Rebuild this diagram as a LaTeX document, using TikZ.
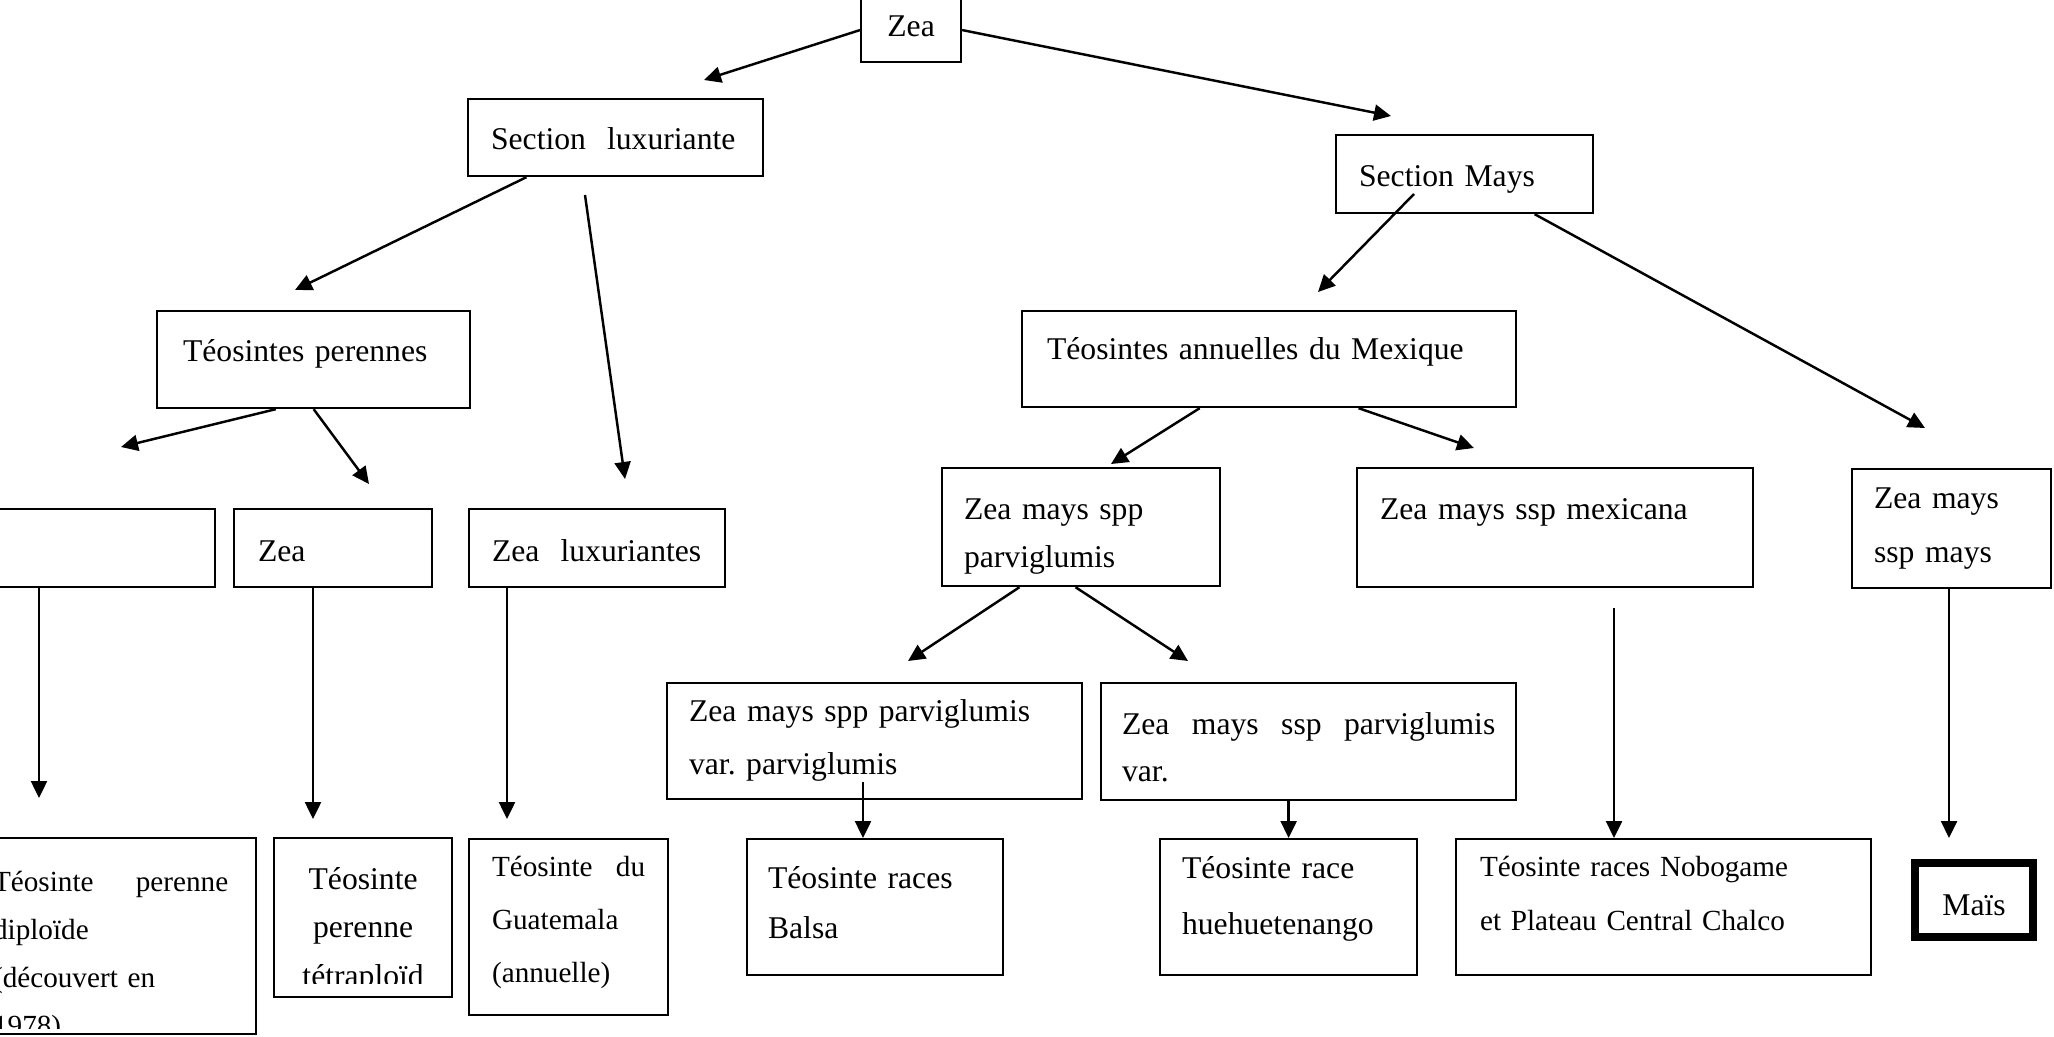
\documentclass[tikz,border=0pt]{standalone}
\usepackage{fontspec}
\setmainfont{Liberation Serif}
\usetikzlibrary{arrows.meta, calc}
\frenchspacing

\begin{document}
\begin{tikzpicture}[x=0.01cm, y=-0.01cm, >={Triangle[length=1.7mm, width=1.6mm]},
    boite/.style={draw, line width=0.6pt, anchor=north west, inner ysep=0pt, align=left, font=\fontsize{9}{14.5}\selectfont},
    fleche/.style={->, line width=0.7pt}]
    \useasboundingbox (0,0) rectangle (2054,1036);
    \clip (0,0) rectangle (2054,1036);

    % Racine et sections
    \node[boite, align=center, inner xsep=1mm, text width=8mm, text height=3.8mm, text depth=2.6mm] (zea) at (860,-3) {Zea};
    \node[boite, inner xsep=2.3mm, text width=24.9mm, text height=5.0mm, text depth=2.7mm] (secLux) at (467,98) {Section~~luxuriante};
    \node[boite, inner xsep=2.3mm, text width=21.1mm, text height=5.1mm, text depth=2.7mm] (secMays) at (1335,134) {Section Mays};

    % Groupes de teosintes
    \node[boite, inner xsep=2.6mm, text width=26.1mm, text height=5.0mm, text depth=4.7mm] (teoPer) at (156,310) {Téosintes perennes};
    \node[boite, inner xsep=2.5mm, text width=44.4mm, text height=4.8mm, text depth=4.8mm] (teoAnn) at (1021,310) {Téosintes annuelles du Mexique};

    % Especes et sous-especes
    \node[boite, inner xsep=2mm, text width=21.4mm, text height=5.2mm, text depth=2.6mm] (gauche) at (-40,508) {};
    \node[boite, inner xsep=2.4mm, text width=15mm, text height=5.2mm, text depth=2.6mm] (zeaPer) at (233,508) {Zea};
    \node[boite, inner xsep=2.3mm, text width=21mm, text height=5.2mm, text depth=2.6mm] (zeaLux) at (468,508) {Zea~~luxuriantes};
    \node[boite, font=\fontsize{9}{13.9}\selectfont, inner xsep=2.2mm, text width=23.4mm, text height=5.1mm, text depth=6.7mm] (parvi) at (941,467) {Zea mays spp\\parviglumis};
    \node[boite, inner xsep=2.3mm, text width=35mm, text height=5.1mm, text depth=6.8mm] (mexicana) at (1356,467) {Zea mays ssp mexicana};
    \node[boite, font=\fontsize{9}{15.4}\selectfont, inner xsep=2.2mm, text width=15.5mm, text height=3.9mm, text depth=8mm] (zmMays) at (1851,468) {Zea mays\\ssp mays};

    % Varietes
    \node[boite, font=\fontsize{9}{15.1}\selectfont, inner xsep=2.2mm, text width=37.1mm, text height=3.8mm, text depth=7.8mm] (varParvi) at (666,682) {Zea mays spp parviglumis\\var. parviglumis};
    \node[boite, font=\fontsize{9}{13.4}\selectfont, inner xsep=2.1mm, text width=37.3mm, text height=5.1mm, text depth=6.6mm] (varBis) at (1100,682) {Zea\hfill mays\hfill ssp\hfill parviglumis\\var.};

    % Races (le texte deborde et est coupe par le cadre)
    \begin{scope}
        \clip (-50,838) rectangle (260,1028);
        \node[boite, draw=none, font=\fontsize{8.3}{13.7}\selectfont, inner xsep=2.7mm, text width=23.5mm, text height=5.2mm, text depth=14.2mm] (diplo) at (-35,838) {Téosinte\hfill perenne\\diploïde\\(découvert en\\1978)};
    \end{scope}
    \draw[line width=0.6pt] (diplo.north west) rectangle (diplo.south east);
    \begin{scope}
        \clip (270,838) rectangle (455,983);
        \node[boite, draw=none, align=center, font=\fontsize{9}{13.9}\selectfont, inner xsep=1mm, text width=15.6mm, text height=5mm, text depth=10.7mm] (tetra) at (274,838) {Téosinte\\perenne\\tétraploïd};
    \end{scope}
    \draw[line width=0.6pt] (tetra.north west) rectangle (tetra.south east);
    \node[boite, font=\fontsize{8.3}{15.1}\selectfont, inner xsep=2.3mm, text width=15.3mm, text height=3.7mm, text depth=13.9mm] (guat) at (468,838) {Téosinte\hfill du\\Guatemala\\(annuelle)};
    \node[boite, font=\fontsize{9}{14.2}\selectfont, inner xsep=2.1mm, text width=21.4mm, text height=4.9mm, text depth=8.7mm] (balsa) at (746,838) {Téosinte races\\Balsa};
    \node[boite, font=\fontsize{9}{15.9}\selectfont, inner xsep=2.2mm, text width=21.3mm, text height=3.9mm, text depth=9.7mm] (huehue) at (1159,838) {Téosinte race\\huehuetenango};
    \node[boite, font=\fontsize{8.3}{15.4}\selectfont, inner xsep=2.4mm, text width=36.7mm, text height=3.7mm, text depth=9.9mm] (nobo) at (1455,838) {Téosinte races Nobogame\\et Plateau Central Chalco};
    \node[boite, line width=2.3pt, align=center, inner xsep=1mm, text width=9.8mm, text height=5.2mm, text depth=2.2mm] (mais) at (1911,859) {Maïs};

    % Extremites libres des fleches
    \coordinate (p1) at (704,80);
    \coordinate (p2) at (1391,116);
    \coordinate (p3) at (295,290);
    \coordinate (q4) at (585,195);
    \coordinate (p4) at (625,479);
    \coordinate (q5) at (1414,194);
    \coordinate (p5) at (1318,292);
    \coordinate (p6) at (1925,428);
    \coordinate (p7) at (121,447);
    \coordinate (p8) at (369,484);
    \coordinate (p9) at (1111,464);
    \coordinate (p10) at (1474,448);
    \coordinate (p11) at (908,661);
    \coordinate (p12) at (1188,661);
    \coordinate (p13) at (39,798);
    \coordinate (p14) at (313,819);
    \coordinate (p15) at (507,819);
    \coordinate (q16) at (863,782);
    \coordinate (q18) at (1614,608);
    \coordinate (p19) at (1949,838);

    % Fleches
    \draw[fleche] (zea.west) -- (p1);
    \draw[fleche] (zea.east) -- (p2);
    \draw[fleche] ($(secLux.south west)!0.2!(secLux.south east)$) -- (p3);
    \draw[fleche] (q4) -- (p4);
    \draw[fleche] (q5) -- (p5);
    \draw[fleche] ($(secMays.south west)!0.77!(secMays.south east)$) -- (p6);
    \draw[fleche] ($(teoPer.south west)!0.38!(teoPer.south east)$) -- (p7);
    \draw[fleche] (teoPer.south) -- (p8);
    \draw[fleche] ($(teoAnn.south west)!0.36!(teoAnn.south east)$) -- (p9);
    \draw[fleche] ($(teoAnn.south west)!0.68!(teoAnn.south east)$) -- (p10);
    \draw[fleche] ($(parvi.south west)!0.28!(parvi.south east)$) -- (p11);
    \draw[fleche] ($(parvi.south west)!0.48!(parvi.south east)$) -- (p12);
    \draw[fleche] (gauche.south -| p13) -- (p13);
    \draw[fleche] (zeaPer.south -| p14) -- (p14);
    \draw[fleche] (zeaLux.south -| p15) -- (p15);
    \draw[fleche] (q16) -- (balsa.north -| q16);
    \draw[fleche] (varBis.south -| huehue.north) -- (huehue.north);
    \draw[fleche] (q18) -- (nobo.north -| q18);
    \draw[fleche] (zmMays.south -| p19) -- (p19);
\end{tikzpicture}
\end{document}
